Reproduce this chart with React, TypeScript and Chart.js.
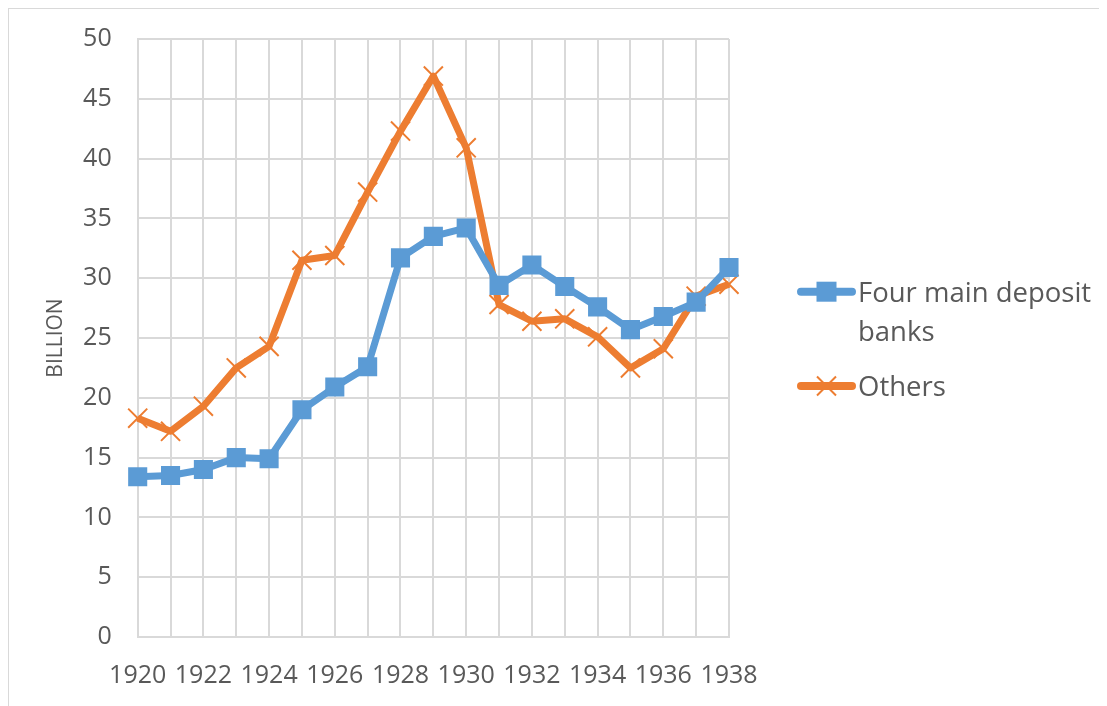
import React, { useEffect, useRef } from "react";
import { Chart, registerables } from "chart.js";

Chart.register(...registerables);

const years = [
  "1920", "1921", "1922", "1923", "1924", "1925", "1926", "1927", "1928", "1929",
  "1930", "1931", "1932", "1933", "1934", "1935", "1936", "1937", "1938",
];
const fourMainDeposit = [
  13.4, 13.5, 14.0, 15.0, 14.9, 19.0, 20.9, 22.6, 31.7, 33.5,
  34.2, 29.4, 31.1, 29.3, 27.6, 25.7, 26.8, 28.0, 30.9,
];
const others = [
  18.3, 17.2, 19.3, 22.5, 24.3, 31.5, 31.9, 37.2, 42.3, 46.9,
  40.9, 27.8, 26.4, 26.6, 25.1, 22.5, 24.1, 28.5, 29.5,
];
const seriesNames = ["Four main deposit", "banks"];
const othersName = "Others";
const yTitle = "BILLION";

const BLUE = "#5B9BD5";
const ORANGE = "#ED7D31";
const GRID = "#D9D9D9";
const TEXT = "#595959";
const FONT = "'Open Sans', sans-serif";

const legendPlugin = {
  id: "customLegend",
  afterDraw(chart: any) {
    const { ctx, chartArea } = chart;
    const x0 = chartArea.right + 68;
    const x1 = x0 + 59;
    const tx = x1 + 2;
    ctx.save();
    ctx.lineCap = "round";
    ctx.strokeStyle = BLUE;
    ctx.lineWidth = 8;
    ctx.beginPath();
    ctx.moveTo(x0 + 4, 283.7);
    ctx.lineTo(x1 - 4, 283.7);
    ctx.stroke();
    ctx.fillStyle = BLUE;
    ctx.fillRect((x0 + x1) / 2 - 10, 283.7 - 10, 20, 20);
    ctx.strokeStyle = ORANGE;
    ctx.beginPath();
    ctx.moveTo(x0 + 4, 378);
    ctx.lineTo(x1 - 4, 378);
    ctx.stroke();
    ctx.lineWidth = 2;
    ctx.lineCap = "butt";
    const cx = (x0 + x1) / 2;
    ctx.beginPath();
    ctx.moveTo(cx - 9.5, 378 - 9.5);
    ctx.lineTo(cx + 9.5, 378 + 9.5);
    ctx.moveTo(cx + 9.5, 378 - 9.5);
    ctx.lineTo(cx - 9.5, 378 + 9.5);
    ctx.stroke();
    ctx.fillStyle = TEXT;
    ctx.font = `27.5px ${FONT}`;
    ctx.textBaseline = "alphabetic";
    ctx.textAlign = "left";
    ctx.fillText(seriesNames[0], tx, 293.7);
    ctx.fillText(seriesNames[1], tx, 332.7);
    ctx.fillText(othersName, tx, 387.7);
    ctx.restore();
  },
};

export default function App() {
  const ref = useRef<HTMLCanvasElement>(null);
  useEffect(() => {
    if (!ref.current) return;
    const chart = new Chart(ref.current, {
      type: "line",
      data: {
        labels: years,
        datasets: [
          {
            label: seriesNames.join(" "),
            data: fourMainDeposit,
            borderColor: BLUE,
            backgroundColor: BLUE,
            borderWidth: 7,
            pointStyle: "rect",
            pointRadius: 13.5,
            pointBorderWidth: 0,
            pointBackgroundColor: BLUE,
            tension: 0,
            borderJoinStyle: "round",
          },
          {
            label: othersName,
            data: others,
            borderColor: ORANGE,
            backgroundColor: ORANGE,
            borderWidth: 7,
            pointStyle: "crossRot",
            pointRadius: 13.5,
            pointBorderWidth: 2,
            pointBorderColor: ORANGE,
            tension: 0,
            borderJoinStyle: "round",
          },
        ],
      },
      options: {
        responsive: false,
        animation: false,
        layout: { padding: { top: 31, right: 378, left: 0, bottom: 0 } },
        plugins: {
          legend: { display: false },
          tooltip: { enabled: false },
        },
        scales: {
          x: {
            type: "category",
            offset: false,
            grid: { color: GRID, lineWidth: 2, drawTicks: false },
            border: { color: GRID, width: 2 },
            ticks: {
              autoSkip: false,
              maxRotation: 0,
              padding: 24,
              color: TEXT,
              font: { family: FONT, size: 25 },
              callback: (_v: any, i: number) => (i % 2 === 0 ? years[i] : ""),
            },
            afterFit: (s: any) => {
              s.height = 69;
              s.paddingLeft = 0;
              s.paddingRight = 0;
            },
          },
          y: {
            min: 0,
            max: 50,
            grid: { color: GRID, lineWidth: 2, drawTicks: false },
            border: { color: GRID, width: 2 },
            ticks: {
              stepSize: 5,
              padding: 26,
              color: TEXT,
              font: { family: FONT, size: 25 },
            },
            title: {
              display: true,
              text: yTitle,
              color: TEXT,
              font: { family: FONT, size: 21 },
              padding: { top: 35, bottom: 0 },
            },
            afterFit: (s: any) => {
              s.width = 129.7;
              s.paddingTop = 0;
              s.paddingBottom = 0;
            },
          },
        },
      },
      plugins: [legendPlugin],
    });
    return () => chart.destroy();
  }, []);

  return (
    <div style={{ position: "relative", width: 1099, height: 698 }}>
      <div style={{ position: "absolute", left: -1, top: -1, width: 1100, height: 2, background: GRID }} />
      <div style={{ position: "absolute", left: -1, top: -1, width: 2, height: 699, background: GRID }} />
      <canvas ref={ref} width={1099} height={698} style={{ display: "block", position: "absolute", left: 0, top: 0 }} />
    </div>
  );
}
